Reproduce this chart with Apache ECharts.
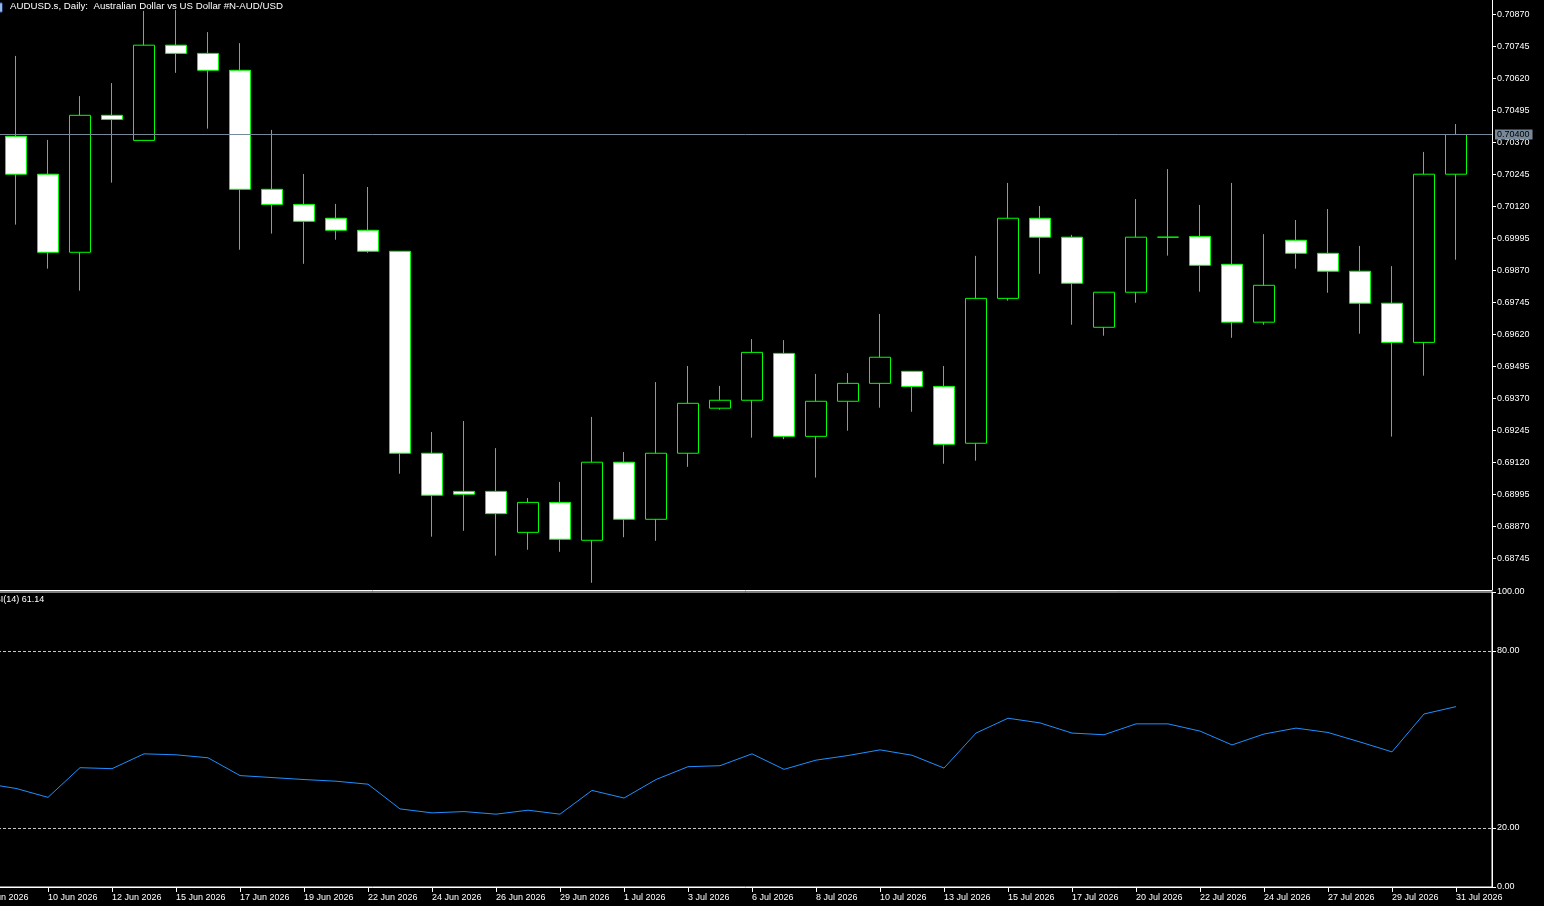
<!DOCTYPE html>
<html>
<head>
<meta charset="utf-8">
<script src="https://cdn.jsdelivr.net/npm/echarts/dist/echarts.min.js"></script>
<style>
  html, body { margin: 0; padding: 0; background: #000; }
  #chart { width: 1544px; height: 906px; }
</style>
</head>
<body>
<div id="chart"></div>
<script>
// ---------- data ----------
const dates = ['8 Jun 2026','9 Jun 2026','10 Jun 2026','11 Jun 2026','12 Jun 2026','14 Jun 2026','15 Jun 2026','16 Jun 2026','17 Jun 2026','18 Jun 2026','19 Jun 2026','21 Jun 2026','22 Jun 2026','23 Jun 2026','24 Jun 2026','25 Jun 2026','26 Jun 2026','28 Jun 2026','29 Jun 2026','30 Jun 2026','1 Jul 2026','2 Jul 2026','3 Jul 2026','5 Jul 2026','6 Jul 2026','7 Jul 2026','8 Jul 2026','9 Jul 2026','10 Jul 2026','12 Jul 2026','13 Jul 2026','14 Jul 2026','15 Jul 2026','16 Jul 2026','17 Jul 2026','19 Jul 2026','20 Jul 2026','21 Jul 2026','22 Jul 2026','23 Jul 2026','24 Jul 2026','26 Jul 2026','27 Jul 2026','28 Jul 2026','29 Jul 2026','30 Jul 2026','31 Jul 2026'];

// candles for dates[1] .. dates[46] (8 Jun candle is off-screen)
const openPrices  = [0.70393,0.70245,0.69940,0.70475,0.70377,0.70749,0.70717,0.70651,0.70186,0.70127,0.70073,0.70026,0.69944,0.69155,0.69006,0.69006,0.68846,0.68963,0.68815,0.69120,0.68897,0.69155,0.69331,0.69362,0.69545,0.69221,0.69358,0.69428,0.69475,0.69416,0.69194,0.69760,0.70073,0.69999,0.69647,0.69784,0.69999,0.70002,0.69893,0.69667,0.69987,0.69936,0.69866,0.69741,0.69588,0.70245];
const closePrices = [0.70245,0.69940,0.70475,0.70459,0.70749,0.70717,0.70651,0.70186,0.70127,0.70061,0.70026,0.69944,0.69155,0.68991,0.68995,0.68919,0.68963,0.68819,0.69120,0.68897,0.69155,0.69350,0.69362,0.69549,0.69221,0.69358,0.69428,0.69530,0.69416,0.69190,0.69760,0.70073,0.69999,0.69819,0.69784,0.69999,0.69999,0.69889,0.69667,0.69811,0.69936,0.69866,0.69741,0.69588,0.70245,0.70400];
const lowPrices   = [0.70048,0.69876,0.69790,0.70212,0.70377,0.70641,0.70423,0.69950,0.70013,0.69895,0.69989,0.69938,0.69075,0.68829,0.68852,0.68755,0.68778,0.68770,0.68649,0.68827,0.68813,0.69102,0.69325,0.69216,0.69210,0.69060,0.69243,0.69333,0.69317,0.69114,0.69126,0.69751,0.69856,0.69657,0.69614,0.69743,0.69927,0.69786,0.69606,0.69657,0.69876,0.69782,0.69622,0.69220,0.69458,0.69911];
const highPrices  = [0.70707,0.70379,0.70550,0.70601,0.70883,0.70886,0.70800,0.70757,0.70418,0.70246,0.70129,0.70195,0.69944,0.69238,0.69281,0.69175,0.68980,0.69043,0.69297,0.69160,0.69433,0.69496,0.69418,0.69601,0.69597,0.69465,0.69468,0.69699,0.69475,0.69496,0.69926,0.70211,0.70121,0.70008,0.69784,0.70148,0.70265,0.70125,0.70211,0.70011,0.70066,0.70109,0.69965,0.69886,0.70332,0.70441];

// RSI(14) for dates[0] .. dates[46]
const rsiValues = [35.15,33.41,30.39,40.45,40.11,45.14,44.81,43.80,37.77,37.10,36.43,35.86,34.85,26.47,25.13,25.57,24.69,26.03,24.69,32.74,30.16,36.43,40.78,41.12,45.14,39.88,43.00,44.57,46.48,44.67,40.31,52.18,57.21,55.63,52.18,51.61,55.30,55.30,52.85,48.16,51.85,53.86,52.38,49.16,45.81,58.65,61.14];

const priceTicks = [0.68745,0.68870,0.68995,0.69120,0.69245,0.69370,0.69495,0.69620,0.69745,0.69870,0.69995,0.70120,0.70245,0.70370,0.70495,0.70620,0.70745,0.70870];
const rsiTicks = [0, 20, 80, 100];
const rsiLevels = [20, 80];
const dateTickIdx = [0,2,4,6,8,10,12,14,16,18,20,22,24,26,28,30,32,34,36,38,40,42,44,46];
const currentPrice = 0.70400;
const titleText = 'AUDUSD.s, Daily:  Australian Dollar vs US Dollar #N-AUD/USD';
const rsiLabel = 'RSI(14) 61.14';

// ---------- chart ----------
const F = '"Liberation Sans", Arial, sans-serif';
const candleData = openPrices.map((o, i) => [i + 1, o, closePrices[i], lowPrices[i], highPrices[i]]);
const rsiData = rsiValues.map((v, i) => [i, v]);

const XMIN = -0.5, XMAX = 47.125;

const chart = echarts.init(document.getElementById('chart'), null, { renderer: 'canvas' });
chart.setOption({
  backgroundColor: '#000',
  animation: false,
  title: {
    text: titleText, left: 10, top: 1, padding: 0,
    textStyle: { color: '#fff', fontSize: 9.7, fontWeight: 'normal', fontFamily: F }
  },
  graphic: [
    { type: 'rect', shape: { x: 0, y: 3, width: 2, height: 9 }, style: { fill: '#fff', stroke: '#2f6fc9', lineWidth: 1 } },
    { type: 'text', x: -11.8, y: 600, style: { text: rsiLabel, fill: '#fff', fontSize: 9, fontFamily: F, verticalAlign: 'middle' } }
  ],
  grid: [
    { left: -32, top: 0, width: 1524, height: 590, outerBoundsMode: 'none', containLabel: false },
    { left: -32, top: 592, width: 1524, height: 295, outerBoundsMode: 'none', containLabel: false,
      show: true, borderColor: '#fff', borderWidth: 1, backgroundColor: 'transparent' }
  ],
  xAxis: [
    { type: 'value', gridIndex: 0, min: XMIN, max: XMAX,
      axisLine: { show: true, onZero: false, lineStyle: { color: '#fff', width: 1 } },
      axisTick: { show: false }, axisLabel: { show: false }, splitLine: { show: false } },
    { type: 'value', gridIndex: 1, min: XMIN, max: XMAX,
      axisLine: { show: true, onZero: false, lineStyle: { color: '#fff', width: 1 } },
      axisTick: { show: true, customValues: dateTickIdx, length: 5, lineStyle: { color: '#fff' } },
      axisLabel: { show: true, customValues: dateTickIdx, formatter: v => dates[Math.round(v)],
        align: 'left', color: '#fff', fontSize: 9, fontFamily: F, margin: 6 },
      splitLine: { show: false } }
  ],
  yAxis: [
    { type: 'value', gridIndex: 0, position: 'right', min: 0.686208, max: 0.709255,
      axisLine: { show: true, onZero: false, lineStyle: { color: '#fff', width: 1 } },
      axisTick: { show: true, customValues: priceTicks, length: 4, lineStyle: { color: '#fff' } },
      axisLabel: { show: true, customValues: priceTicks, formatter: v => v.toFixed(5),
        color: '#fff', fontSize: 9, fontFamily: F, margin: 5 },
      splitLine: { show: false } },
    { type: 'value', gridIndex: 1, position: 'right', min: 0, max: 100,
      axisLine: { show: true, onZero: false, lineStyle: { color: '#fff', width: 1 } },
      axisTick: { show: true, customValues: rsiTicks, length: 4, lineStyle: { color: '#fff' } },
      axisLabel: { show: true, customValues: rsiTicks, formatter: v => v.toFixed(2),
        color: '#fff', fontSize: 9, fontFamily: F, margin: 5 },
      splitLine: { show: false } }
  ],
  series: [
    {
      type: 'candlestick', xAxisIndex: 0, yAxisIndex: 0,
      data: candleData, barWidth: 21, clip: false,
      itemStyle: { color: '#000000', color0: '#ffffff', borderColor: '#00ff00', borderColor0: '#00ff00', borderColorDoji: '#00ff00', borderWidth: 1 },
      emphasis: { disabled: true },
      markLine: {
        silent: true, symbol: ['none', 'none'], animation: false, precision: 5,
        lineStyle: { color: '#778899', type: 'solid', width: 1 },
        label: { show: true, position: 'end', distance: 3, formatter: p => Number(p.value).toFixed(5),
          color: '#000', backgroundColor: '#778899', padding: [1, 3, 0, 2], fontSize: 9, fontFamily: F },
        emphasis: { disabled: true },
        data: [{ yAxis: currentPrice }]
      }
    },
    {
      type: 'line', xAxisIndex: 1, yAxisIndex: 1, data: rsiData,
      symbol: 'none', lineStyle: { color: '#1E90FF', width: 1 },
      emphasis: { disabled: true },
      markLine: {
        silent: true, symbol: ['none', 'none'], animation: false,
        lineStyle: { color: '#c8c8c8', type: [3, 2], width: 1 },
        label: { show: false },
        emphasis: { disabled: true },
        data: rsiLevels.map(v => ({ yAxis: v }))
      }
    }
  ]
});
</script>
</body>
</html>
